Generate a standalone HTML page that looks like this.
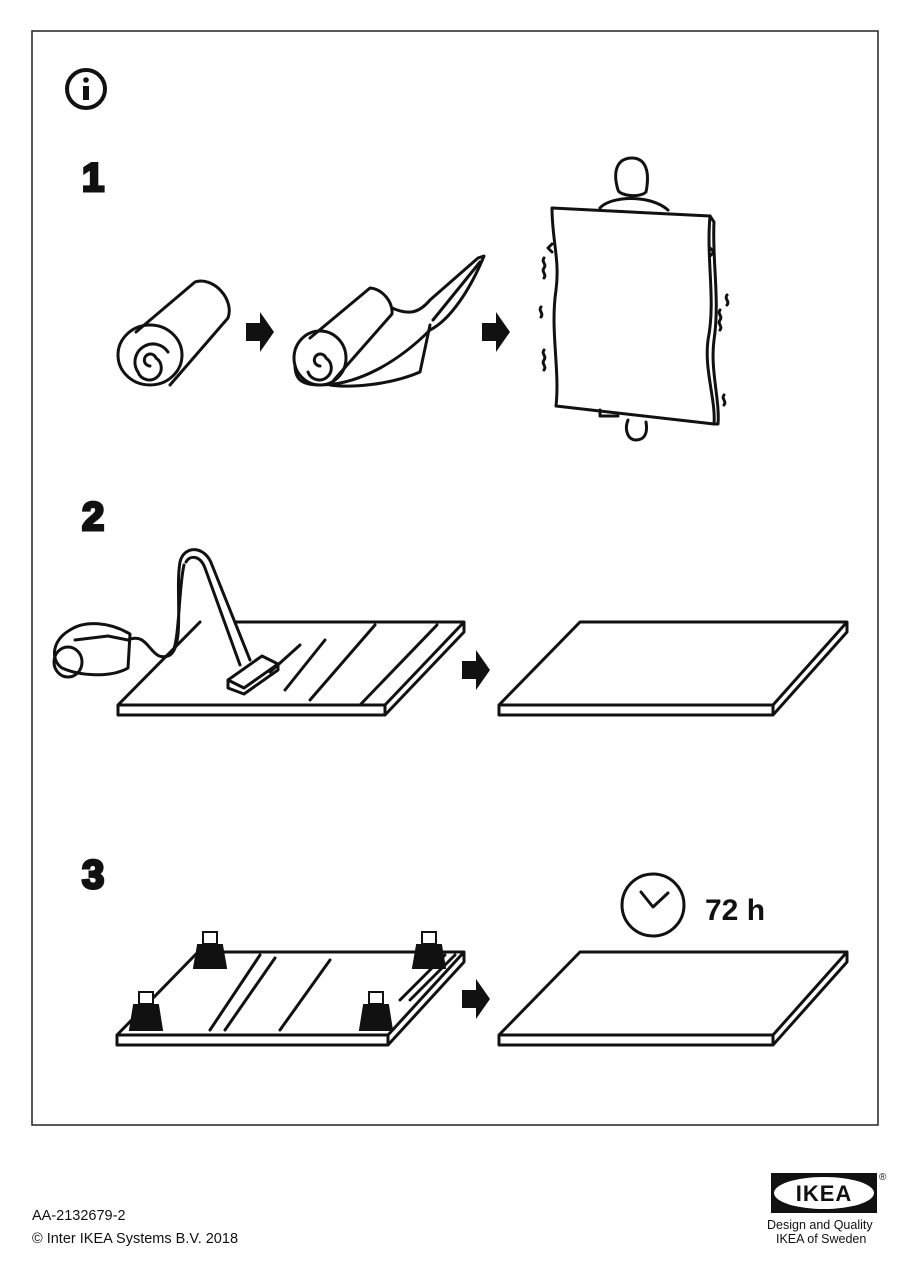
<!DOCTYPE html>
<html><head><style>
html,body{margin:0;padding:0;background:#fff;}
body{width:901px;height:1287px;position:relative;overflow:hidden;font-family:"Liberation Sans",sans-serif;}
.t{position:absolute;font-size:14.5px;color:#111;}
</style></head><body>
<svg width="901" height="1287" style="position:absolute;left:0;top:0" xmlns="http://www.w3.org/2000/svg">
<rect x="0" y="0" width="901" height="1287" fill="#fff"/>
<rect x="32" y="31" width="846" height="1094" fill="none" stroke="#222" stroke-width="1.5"/>
<circle cx="86" cy="89" r="19" fill="none" stroke="#111" stroke-width="4"/>
<circle cx="86" cy="80" r="2.8" fill="#111"/>
<rect x="83" y="86" width="6" height="14" fill="#111"/>
<text x="82" y="191" font-family="Liberation Sans" font-weight="900" font-size="40" fill="#111" stroke="#111" stroke-width="3">1</text>
<text x="82" y="530" font-family="Liberation Sans" font-weight="900" font-size="40" fill="#111" stroke="#111" stroke-width="3">2</text>
<text x="82" y="888" font-family="Liberation Sans" font-weight="900" font-size="40" fill="#111" stroke="#111" stroke-width="3">3</text>
<g fill="none" stroke="#111" stroke-width="3" stroke-linejoin="round" stroke-linecap="round">
<path d="M136 332 L195 282 A20 26 -40 0 1 228 318 L170 385"/>
<ellipse cx="150" cy="355" rx="32" ry="30"/>
<path d="M150 366 a6 6 0 1 1 6 -8 a12 12 0 1 1 -18 14 a18 18 0 1 1 30 -20"/>
<path d="M310 338 L370 288 A18 22 -40 0 1 392 314 L334 380"/>
<ellipse cx="320" cy="358" rx="26" ry="27"/>
<path d="M320 366 a6 6 0 1 1 6 -8 a12 12 0 1 1 -18 14"/>
<path d="M392 308 C410 316 420 312 430 300 L478 258 L484 256 C470 290 450 320 430 330 C400 360 360 385 320 385 C300 385 295 378 295 365"/>
<path d="M430 325 L420 372 C390 385 350 388 330 385 M480 262 L433 320"/>
<path d="M618 190 C612 170 618 158 632 158 C646 158 650 172 646 192 M618 190 C620 196 640 198 646 192"/>
<path d="M600 208 C610 196 650 194 668 210"/>
<path d="M552 208 L710 216 C706 260 716 300 708 340 C704 370 716 400 714 424 L556 406 C560 370 550 330 556 290 C560 260 552 240 552 208 Z"/>
<path d="M710 216 L714 222 C712 260 720 300 714 340 C710 370 720 400 718 424 L714 424"/>
<path d="M552 244 l-4 4 4 4 M710 248 l4 4 -4 4"/>
<path d="M600 410 l0 6 l18 0 M628 420 c-4 10 0 20 8 20 c8 0 12 -6 10 -18"/>
<path d="M544 258 c-3 4 3 6 0 10 c-3 4 3 6 0 10 M541 307 c-3 4 3 6 0 10 M544 350 c-3 4 3 6 0 10 c-3 4 3 6 0 10 M727 295 c-3 4 3 6 0 10 M720 310 c-3 4 3 6 0 10 c-3 4 3 6 0 10 M724 395 c-3 4 3 6 0 10"/>
<path d="M118 705 L200 622 M235 622 L464 622 L385 705 L118 705 L118 715 L385 715 L464 632 L464 622 M385 705 L385 715"/>
<path d="M300 645 L270 672 M325 640 L285 690 M375 625 L310 700 M437 625 L360 705"/>
<path d="M70 630 C85 620 110 622 130 634 L128 668 C110 678 80 676 62 668 C50 660 52 640 70 630 Z"/>
<ellipse cx="68" cy="662" rx="14" ry="15"/>
<path d="M75 640 L108 636 L128 640"/>
<path d="M128 640 C150 630 150 665 170 655 C185 645 175 590 180 562 C184 545 205 545 212 565 L250 660 M186 562 C190 555 200 555 205 568 L240 665 M170 655 C180 650 178 590 184 565"/>
<path d="M228 680 L262 656 L278 664 L244 688 Z M228 680 L228 688 L244 694 L278 670 L278 664"/>
<path d="M499 705 L580 622 L847 622 L773 705 Z M499 705 L499 715 L773 715 L847 632 L847 622 M773 705 L773 715"/>
<path d="M117 1035 L198 952 L464 952 L388 1035 Z M117 1035 L117 1045 L388 1045 L464 962 L464 952 M388 1035 L388 1045"/>
<path d="M260 955 L210 1030 M275 958 L225 1030 M330 960 L280 1030 M445 955 L400 1000 M455 955 L410 1000"/>
<path d="M499 1035 L580 952 L847 952 L773 1035 Z M499 1035 L499 1045 L773 1045 L847 962 L847 952 M773 1035 L773 1045"/>
<circle cx="653" cy="905" r="31"/>
<path d="M641 892 L653 907 L668 893"/>
</g>
<g fill="#111">
<path d="M246 323h14v-11l14 20-14 20v-11h-14z"/>
<path d="M482 323h14v-11l14 20-14 20v-11h-14z"/>
<path d="M462 661h14v-11l14 20-14 20v-11h-14z"/>
<path d="M462 990h14v-11l14 20-14 20v-11h-14z"/>
</g>
<g fill="#111" stroke="#111" stroke-width="2">
<path d="M198 945 L222 945 L226 968 L194 968 Z"/><rect x="203" y="932" width="14" height="12" fill="#fff"/>
<path d="M417 945 L441 945 L445 968 L413 968 Z"/><rect x="422" y="932" width="14" height="12" fill="#fff"/>
<path d="M134 1005 L158 1005 L162 1030 L130 1030 Z"/><rect x="139" y="992" width="14" height="12" fill="#fff"/>
<path d="M364 1005 L388 1005 L392 1030 L360 1030 Z"/><rect x="369" y="992" width="14" height="12" fill="#fff"/>
</g>
<text x="705" y="920" font-family="Liberation Sans" font-weight="bold" font-size="30" fill="#111">72 h</text>
<rect x="771" y="1173" width="106" height="40" fill="#111"/>
<ellipse cx="824" cy="1193" rx="50" ry="16" fill="#fff"/>
<text x="824" y="1201" text-anchor="middle" font-family="Liberation Sans" font-weight="900" font-size="22" fill="#111" letter-spacing="1">IKEA</text>
<text x="879" y="1180" font-size="10" fill="#111">®</text>
</svg>
<div class="t" style="left:767px;top:1218px;font-size:12.5px">Design and Quality</div>
<div class="t" style="left:776px;top:1232px;font-size:12.5px">IKEA of Sweden</div>
<div class="t" style="left:32px;top:1208px">AA-2132679-2</div>
<div class="t" style="left:32px;top:1231px">© Inter IKEA Systems B.V. 2018</div>
</body></html>
